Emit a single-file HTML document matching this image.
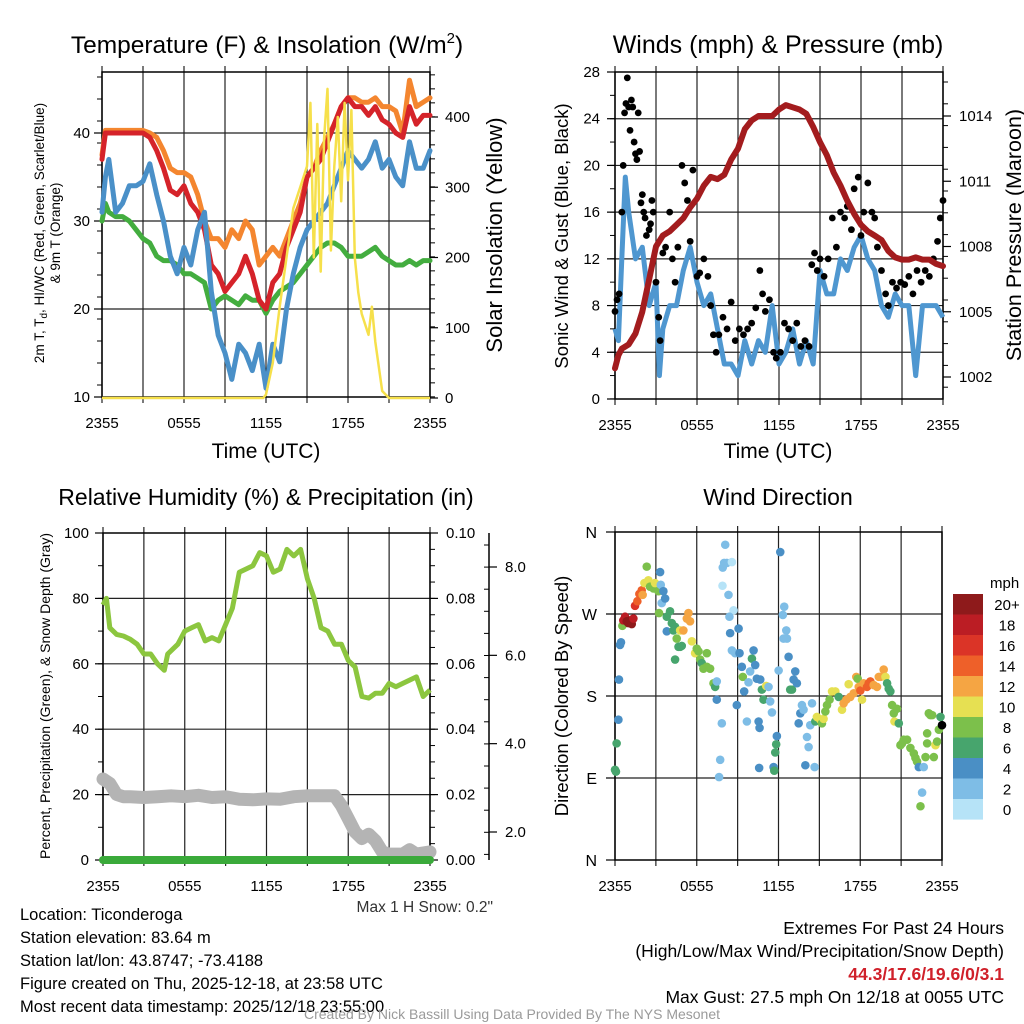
<!DOCTYPE html>
<html><head><meta charset="utf-8">
<style>
body{margin:0;background:#fff;}
svg{display:block;font-family:"Liberation Sans",Arial,sans-serif;}
</style></head>
<body>
<svg id="c" width="1024" height="1024" viewBox="0 0 1024 1024" xmlns="http://www.w3.org/2000/svg">
<rect width="1024" height="1024" fill="#fff"/>
</svg>
<script>
// ---------- DATA ----------
const hrs = [0,0.25,0.5,1,1.5,2,2.5,3,3.5,4,4.5,5,5.5,6,6.5,7,7.5,8,8.5,9,9.5,10,10.5,11,11.5,12,12.5,13,13.5,14,14.5,15,15.5,16,16.5,17,17.5,18,18.5,19,19.5,20,20.5,21,21.5,22,22.5,23,23.5,24];
const tempRed = [37,40,40,40,40,40,40,40,39.5,38,36,33.5,33,34,32,31,29,25,24,22,23,24,26,24,21,20,23,24,27,29,31,35,36,37,39,41,43,44,43,43,42,43,41.5,41,40,39.5,43,41,42,42];
const tempOrange = [37.5,40.3,40.3,40.3,40.3,40.3,40.3,40.3,40,39.5,38,36,35.5,35.5,35,33,30,28,28,27,29,28,30,29,25,26,27,26,28,30,32,35,36,38,39.5,41,43,44,44,43.5,43.5,44,43,43,42.5,40,46,43,43.5,44];
const heatIndex = [31,35,37,31,32,34,34,34.5,36.5,33,30,26,24,27,25,29,31,22,17,15,12,16,15,13,16,11,16,14,20,24,27,29,30,31,32,34,36,38,37,36,37,39,36,37,35,34,39,36,36,38];
const dewpoint = [30,32,31,30.5,30.5,30,29,28,27.5,26,25.5,25.5,25,24,24,23.5,23,20,21,21.5,21,20.5,21.5,21,21,19.5,21,22,22.5,23,24,25,26,27,27.5,27.5,27,26,26,26,26.5,27,26,25.5,25,25,25.5,25,25.5,25.5];
const solarHrs = [0,11.8,12,12.5,13,13.5,14,14.5,15,15.25,15.5,15.75,16,16.25,16.5,16.75,17,17.25,17.5,17.75,18,18.25,18.5,18.75,19,19.5,19.75,20,20.5,21,24];
const solar = [0,0,5,50,130,200,270,300,330,420,200,390,180,370,440,210,330,400,280,420,310,410,200,150,120,90,130,80,10,0,0];
const windHrs = [0,0.25,0.5,0.75,1,1.25,1.5,2,2.5,3,3.25,3.5,4,4.5,5,5.5,6,6.5,7,7.5,8,8.5,9,9.5,10,10.5,11,11.5,12,12.5,13,13.5,14,14.5,15,15.5,16,16.5,17,17.5,18,18.5,19,19.5,20,20.5,21,21.5,22,22.5,23,23.5,24];
const windSpd = [6,5,12,19,16,14,12,13,8,10,2,6,8,8,11,13,10,8,9,6,3,3,2,5,3,5,4,8,3,4,6,3,5,3,11,9,9,12,11,13,14,12,11,8,7,9,8,8,2,8,8,8,7];
const pressure = [1002.4,1003,1003.3,1003.5,1004,1005,1006.5,1008,1008.5,1008.7,1009,1009.3,1009.8,1010.2,1010.8,1011.2,1011.1,1011.3,1012,1012.5,1013.4,1013.8,1014.0,1014.0,1014.0,1014.3,1014.5,1014.4,1014.3,1014.1,1013.5,1012.8,1012.2,1011.4,1010.8,1010.1,1009.5,1009,1008.7,1008.5,1008.3,1007.8,1007.5,1007.4,1007.4,1007.5,1007.4,1007.4,1007.2,1007.1];
const gustHrs = [0,0.15,0.3,0.5,0.6,0.7,0.8,0.9,1.0,1.1,1.2,1.3,1.4,1.5,1.6,1.7,1.8,1.9,2.0,2.1,2.2,2.3,2.5,2.6,2.7,2.8,3.0,3.2,3.3,3.5,3.7,4.0,4.2,4.4,4.6,4.9,5.1,5.3,5.5,5.7,6.0,6.2,6.5,6.8,7.0,7.2,7.4,7.6,7.9,8.2,8.5,8.8,9.1,9.4,9.7,10.0,10.3,10.6,10.8,11.0,11.3,11.6,11.8,12.1,12.4,12.7,13.0,13.3,13.6,13.9,14.2,14.4,14.6,14.8,15.0,15.3,15.6,15.9,16.2,16.5,16.8,17.0,17.3,17.5,17.8,18.0,18.2,18.5,18.8,19.0,19.2,19.5,19.8,20.0,20.3,20.6,20.9,21.2,21.5,21.8,22.1,22.4,22.7,23.0,23.3,23.6,23.8,24.0];
const gustSpd = [7.5,8.5,9,16,20,24.5,25.3,27.5,25,23,25.6,25,22,21,20.5,24.5,21.2,16.8,17.5,16,15.5,14,14.5,15,17,16,10,7,5,12.5,13,16,12,10,13,20,18.5,17,13.5,19.6,10.5,10.8,12,10.5,8,5.5,4,5.5,7,6,8.3,5,6,5.5,6,6.5,7.8,11,9,7.5,8.5,4,3.5,4,6.5,6,5,6.5,4.5,5,4.5,11.5,12.5,11,12,10.5,12,15.5,13,16,15.5,16.5,14.5,18,19,14,16,18.5,16,15.5,13,11,9,8,10,9.5,10,9.8,10.5,9,11,10,11,10.5,12,13.5,15.5,17];
const rh = [78,80,71,69,68.5,67.5,66,63,63,60,58,63,66,70,71,72,67,68,67,72,77,88,89,90,94,93,88,89,95,93,95,86,80,71,70,66,66,61,59,50,49.5,51,51,54,53,54,55,56,50,52];
const rhHrs = [0,0.25,0.5,1,1.5,2,2.5,3,3.5,4,4.5,4.75,5.5,6,6.5,7,7.5,8,8.5,9,9.5,10,10.5,11,11.5,12,12.5,13,13.5,14,14.5,15,15.5,16,16.5,17,17.5,18,18.5,19,19.5,20,20.5,21,21.5,22,22.5,23,23.5,24];
const snowHrs = [0,0.5,1,1.5,2,3,4,5,6,7,8,9,10,11,12,13,14,15,16,17,17.5,18,18.5,19,19.5,20,20.5,21,22,22.5,23,24];
const snowDepth = [3.2,3.1,2.85,2.8,2.8,2.78,2.8,2.82,2.8,2.83,2.78,2.8,2.74,2.73,2.75,2.74,2.8,2.82,2.82,2.82,2.6,2.3,2.0,1.85,1.95,1.8,1.55,1.5,1.5,1.6,1.5,1.55];
const precipHrs = [0,24];
const precip = [0,0];
const dirHrs = [0,0.07,0.12,0.25,0.29,0.37,0.44,0.54,0.61,0.74,0.86,0.98,1.10,1.23,1.35,1.47,1.64,1.79,1.96,2.03,2.16,2.33,2.45,2.57,2.82,2.94,3.19,3.31,3.36,3.43,3.55,3.68,3.23,3.80,4.04,3.80,4.17,4.29,4.41,4.53,4.66,4.78,4.90,4.41,4.78,5.02,5.27,5.39,5.51,5.64,5.88,6.00,6.13,6.25,6.37,6.49,6.74,6.74,6.98,7.23,7.35,7.47,7.47,7.84,7.72,7.64,7.91,8.01,8.09,8.21,8.33,8.45,8.58,7.89,8.70,8.40,8.58,8.82,8.94,9.07,9.14,9.31,9.38,9.48,9.68,9.80,9.92,10.05,10.17,10.29,10.41,10.54,10.61,10.58,10.66,10.78,10.90,11.10,11.27,11.39,11.52,11.64,11.69,11.76,11.83,11.88,12.01,12.13,12.32,12.37,12.42,12.57,12.62,12.74,12.86,12.99,13.11,13.23,13.35,13.48,13.60,13.72,13.84,13.97,14.09,14.21,14.33,14.46,14.65,14.70,14.82,15.07,15.19,15.31,15.44,15.56,15.75,15.93,16.17,16.42,16.66,16.78,16.98,17.15,17.27,17.52,17.71,17.81,17.89,18.01,18.13,18.25,18.50,18.62,18.74,18.99,19.23,19.36,19.48,19.72,19.85,19.97,20.09,20.21,20.34,20.46,20.51,20.70,20.83,20.95,21.07,21.19,21.44,21.68,21.93,22.05,22.17,22.30,22.66,22.54,22.42,22.79,22.91,23.03,23.15,23.28,22.91,23.40,23.52,23.64,23.77,23.89,24.0];
const dirDeg = [99,97,128,154,198,236,239,257,263,267,262,260,263,259,265,279,284,292,296,291,304,322,307,300,298,304,295,316,302,282,295,287,271,267,273,251,260,252,256,243,234,234,235,220,252,252,265,271,262,240,227,232,229,220,216,210,227,212,210,194,190,196,176,150,110,91,321,326,346,326,291,249,327,301,274,267,230,227,170,254,227,212,201,185,152,195,207,221,230,214,199,152,145,101,198,187,176,191,190,174,162,102,98,118,127,136,208,338,269,243,278,252,243,223,187,187,198,207,194,150,161,170,165,104,135,124,148,172,102,152,157,154,150,155,163,170,176,185,185,179,165,172,176,193,179,183,201,199,190,186,176,194,190,194,196,192,190,201,201,209,201,194,188,185,170,161,152,166,150,126,128,132,132,123,117,112,108,102,102,74,59,113,139,161,159,159,128,113,126,130,143,157,148];
const dirSpd = [6,6,6,4,4,4,4,8,18,18,20,20,20,20,18,16,14,14,14,12,10,8,10,8,8,10,8,4,2,2,4,4,8,6,6,4,6,6,6,8,6,6,6,6,10,12,12,12,12,10,10,8,8,8,6,8,8,8,8,8,6,2,4,2,2,2,2,2,2,2,2,4,0,0,0,2,2,2,4,4,4,4,8,4,2,2,2,6,4,4,4,4,4,4,4,6,6,10,2,2,2,4,6,6,6,4,2,4,2,2,2,2,2,4,6,6,4,4,4,4,4,2,2,4,2,2,2,2,2,6,10,10,8,10,8,8,8,10,10,6,10,12,12,10,12,12,12,8,12,14,10,12,14,14,14,12,12,12,12,12,10,6,6,6,8,8,10,8,6,8,8,8,8,8,8,8,8,4,2,2,8,8,8,8,8,8,8,8,10,8,8,6];
const cbarLabels = ["20+","18","16","14","12","10","8","6","4","2","0"];
const cbarColors = ["#8e1a1b","#bb1d24","#db3427","#ee6029","#f5a543","#e6e052","#7cc04b","#47a56d","#4a8fc5","#7ebde6","#b6e3f7"];
const timeLabels = ["2355","0555","1155","1755","2355"];

// ---------- HELPERS ----------
const svg = document.getElementById('c');
const NS = 'http://www.w3.org/2000/svg';
function mk(tag, attrs, parent){const e=document.createElementNS(NS,tag);for(const k in attrs)e.setAttribute(k,attrs[k]);(parent||svg).appendChild(e);return e;}
function txt(s, attrs, parent){const e=mk('text',attrs,parent);e.textContent=s;return e;}
function scale(d0,d1,r0,r1){return v=>r0+(v-d0)/(d1-d0)*(r1-r0);}
function pathD(xs,ys,fx,fy){return xs.map((x,i)=>(i?'L':'M')+fx(x).toFixed(1)+','+fy(ys[i]).toFixed(1)).join('');}

function frame(g, L, R, T, B, hLines){
  for(let i=0;i<=8;i++){const x=L+(R-L)*i/8;
    const l=mk('line',{x1:x,x2:x,y1:T-6,y2:B+6,stroke:'#222','stroke-width':1.2},g);
    
    }
  hLines.forEach(y=>{const l=mk('line',{x1:L,x2:R,y1:y,y2:y,stroke:'#222','stroke-width':1.2},g);
    
    });
  const r=mk('rect',{x:L,y:T,width:R-L,height:B-T,fill:'none',stroke:'#000','stroke-width':1.5},g);
  
  
  timeLabels.forEach((s,i)=>{const t=txt(s,{x:L+(R-L)*i/4,y:B+31,'font-size':15,'text-anchor':'middle'},g);
    
    });
}
function yTicks(g, xAxis, vals, fy, fmt, side, labelX){
  vals.forEach(v=>{const y=fy(v);
    mk('line',{x1:xAxis,x2:xAxis+(side>0?8:-8),y1:y,y2:y,stroke:'#000','stroke-width':1.2},g);
    const t=txt(fmt(v),{x:labelX,y:y+5,'font-size':15,'text-anchor':side>0?'start':'end'},g);
    
    });
}
function minor(g,xAxis,from,to,step,side){for(let y=from;y<=to+0.1;y+=step)mk('line',{x1:xAxis,x2:xAxis+(side>0?5:-5),y1:y,y2:y,stroke:'#000','stroke-width':1},g);}

// ---------- PANEL 1 ----------
{
const g=mk('g',{});


const L=102,R=430,T=72,B=397;
const fx=scale(0,24,L,R), fy=scale(10,40,397,133), fs=scale(0,400,398,117);
frame(g,L,R,T,B,[fy(20),fy(30),fy(40)]);
yTicks(g,L,[10,20,30,40],fy,v=>v,-1,L-12);
minor(g,L,T+5,B,22,-1);
yTicks(g,R,[0,100,200,300,400],fs,v=>v,1,R+15);
minor(g,R,fs(460),B,14,1);
const series=[[dewpoint,'#43ad3f','dewpoint-line'],[tempOrange,'#f4862f','temp-9m-line'],[tempRed,'#d5232a','temp-2m-line'],[heatIndex,'#4a90c8','windchill-line']];
series.forEach(([d,c,n])=>{const p=mk('path',{d:pathD(hrs,d,fx,fy),fill:'none',stroke:c,'stroke-width':5,'stroke-linejoin':'round','stroke-linecap':'round'},g);
  
  });
const sp=mk('path',{d:pathD(solarHrs,solar,fx,fs),fill:'none',stroke:'#f6e04b','stroke-width':2.5,'stroke-linejoin':'round'},g);


const t1=txt('',{x:267,y:53,'font-size':24.5,'text-anchor':'middle'},g);
t1.innerHTML='Temperature (F) &amp; Insolation (W/m<tspan dy="-10" font-size="15">2</tspan><tspan dy="10">)</tspan>';


const xt=txt('Time (UTC)',{x:266,y:458,'font-size':21,'text-anchor':'middle'},g);


const yl=txt('',{transform:'translate(44,233) rotate(-90)','font-size':13.5,'text-anchor':'middle'},g);
yl.innerHTML='2m T, T<tspan dy="3" font-size="10">d</tspan><tspan dy="-3">, HI/WC (Red, Green, Scarlet/Blue)</tspan>';


const yl2=txt('& 9m T (Orange)',{transform:'translate(60,233) rotate(-90)','font-size':13.5,'text-anchor':'middle'},g);


const yr=txt('Solar Insolation (Yellow)',{transform:'translate(502,235) rotate(-90)','font-size':22,'text-anchor':'middle'},g);


}

// ---------- PANEL 2 ----------
{
const g=mk('g',{});


const L=615,R=943,T=72,B=399;
const fx=scale(0,24,L,R), fy=scale(0,28,399,72), fp=scale(1002,1014,377,116);
frame(g,L,R,T,B,[4,8,12,16,20,24].map(fy));
yTicks(g,L,[0,4,8,12,16,20,24,28],fy,v=>v,-1,L-15);
minor(g,L,fy(28),B,23.35,-1);
yTicks(g,R,[1002,1005,1008,1011,1014],fp,v=>v,1,R+16);
minor(g,R,T+10,B,21.8,1);
const wp=mk('path',{d:pathD(windHrs,windSpd,fx,fy),fill:'none',stroke:'#4f97d0','stroke-width':5,'stroke-linejoin':'round'},g);


gustHrs.forEach((h,i)=>{const c=mk('circle',{cx:fx(h),cy:fy(gustSpd[i]),r:3.4,fill:'#000'},g);
  
  });
const pp=mk('path',{d:pathD(hrs,pressure,fx,fp),fill:'none',stroke:'#a31c1e','stroke-width':6,'stroke-linejoin':'round','stroke-linecap':'round'},g);


const t=txt('Winds (mph) & Pressure (mb)',{x:778,y:53,'font-size':25,'text-anchor':'middle'},g);


const xt=txt('Time (UTC)',{x:778,y:458,'font-size':21,'text-anchor':'middle'},g);


const yl=txt('Sonic Wind & Gust (Blue, Black)',{transform:'translate(568,236) rotate(-90)','font-size':18.5,'text-anchor':'middle'},g);


const yr=txt('Station Pressure (Maroon)',{transform:'translate(1021,235) rotate(-90)','font-size':21.5,'text-anchor':'middle'},g);


}

// ---------- PANEL 3 ----------
{
const g=mk('g',{});


const L=103,R=430,T=533,B=860;
const fx=scale(0,24,L,R), fy=scale(0,100,860,533), fpr=scale(0,0.1,860,533), fsn=scale(2,8,832,567);
frame(g,L,R,T,B,[20,40,60,80].map(fy));
yTicks(g,L,[0,20,40,60,80,100],fy,v=>v,-1,L-14);
minor(g,L,T,B,32.7,-1);
yTicks(g,R,[0,0.02,0.04,0.06,0.08,0.1],fpr,v=>v.toFixed(2),1,R+16);
minor(g,R,T,B,16.35,1);
mk('line',{x1:489,x2:489,y1:533,y2:860,stroke:'#000','stroke-width':1.5},g);
yTicks(g,489,[2,4,6,8],fsn,v=>v.toFixed(1),1,505);
minor(g,489,545,860,22.1,-1);
const sp=mk('path',{d:pathD(snowHrs,snowDepth,fx,fsn),fill:'none',stroke:'#b4b4b4','stroke-width':13,'stroke-linejoin':'round','stroke-linecap':'round'},g);


const rp=mk('path',{d:pathD(rhHrs,rh,fx,fy),fill:'none',stroke:'#8cc63f','stroke-width':5,'stroke-linejoin':'round'},g);


const pp=mk('path',{d:pathD(precipHrs,precip,fx,fpr),fill:'none',stroke:'#3aaa3a','stroke-width':8,'stroke-linecap':'round'},g);


const t=txt('Relative Humidity (%) & Precipitation (in)',{x:266,y:505,'font-size':23,'text-anchor':'middle'},g);


const yl=txt('Percent, Precipitation (Green), & Snow Depth (Gray)',{transform:'translate(50,696) rotate(-90)','font-size':14,'text-anchor':'middle'},g);


const sn=txt('Max 1 H Snow: 0.2"',{x:493,y:912,'font-size':15.5,'text-anchor':'end',fill:'#333'},g);


}

// ---------- PANEL 4 ----------
{
const g=mk('g',{});


const L=615,R=942,T=532,B=860;
const fx=scale(0,24,L,R), fy=scale(0,360,860,532);
frame(g,L,R,T,B,[90,180,270].map(fy));
[['N',360],['W',270],['S',180],['E',90],['N',0]].forEach(([s,v])=>{
  mk('line',{x1:L-9,x2:L,y1:fy(v),y2:fy(v),stroke:'#000','stroke-width':1.2},g);
  const t=txt(s,{x:L-18,y:fy(v)+6,'font-size':16,'text-anchor':'end'},g);
  
  });
dirHrs.forEach((h,i)=>{const k=Math.max(0,10-Math.min(10,Math.floor(dirSpd[i]/2)));
  const c=mk('circle',{cx:fx(h),cy:fy(dirDeg[i]),r:4.3,fill:cbarColors[k]},g);
  
  });
const t=txt('Wind Direction',{x:778,y:505,'font-size':23,'text-anchor':'middle'},g);


const yl=txt('Direction (Colored By Speed)',{transform:'translate(568,696) rotate(-90)','font-size':18.5,'text-anchor':'middle'},g);


const lg=mk('g',{},g);


const mt=txt('mph',{x:990,y:588,'font-size':15},lg);


cbarColors.forEach((c,i)=>{const r=mk('rect',{x:953,y:594+i*20.5,width:30,height:20.6,fill:c},lg);
  
  
  const tl=txt(cbarLabels[i],{x:1007,y:610+i*20.5,'font-size':15,'text-anchor':'middle'},lg);
  
  });
}

// ---------- FOOTER TEXT ----------
{
const g=mk('g',{});


["Location: Ticonderoga","Station elevation: 83.64 m","Station lat/lon: 43.8747; -73.4188","Figure created on Thu, 2025-12-18, at 23:58 UTC","Most recent data timestamp: 2025/12/18 23:55:00"].forEach((s,i)=>{
  const t=txt(s,{x:20,y:920+i*23,'font-size':16.5},g);
  
  });
const g2=mk('g',{});


const lines=[["Extremes For Past 24 Hours",934,'#000','normal'],["(High/Low/Max Wind/Precipitation/Snow Depth)",957,'#000','normal'],["44.3/17.6/19.6/0/3.1",980,'#d0202a','bold'],["Max Gust: 27.5 mph On 12/18 at 0055 UTC",1003,'#000','normal']];
lines.forEach(([s,y,c,w])=>{const t=txt(s,{x:1004,y:y,'font-size':17.5,'text-anchor':'end',fill:c,'font-weight':w},g2);
  
  });
const cr=txt('Created By Nick Bassill Using Data Provided By The NYS Mesonet',{x:512,y:1019,'font-size':14,'text-anchor':'middle',fill:'#9a9a9a'});


}
</script>
</body></html>
